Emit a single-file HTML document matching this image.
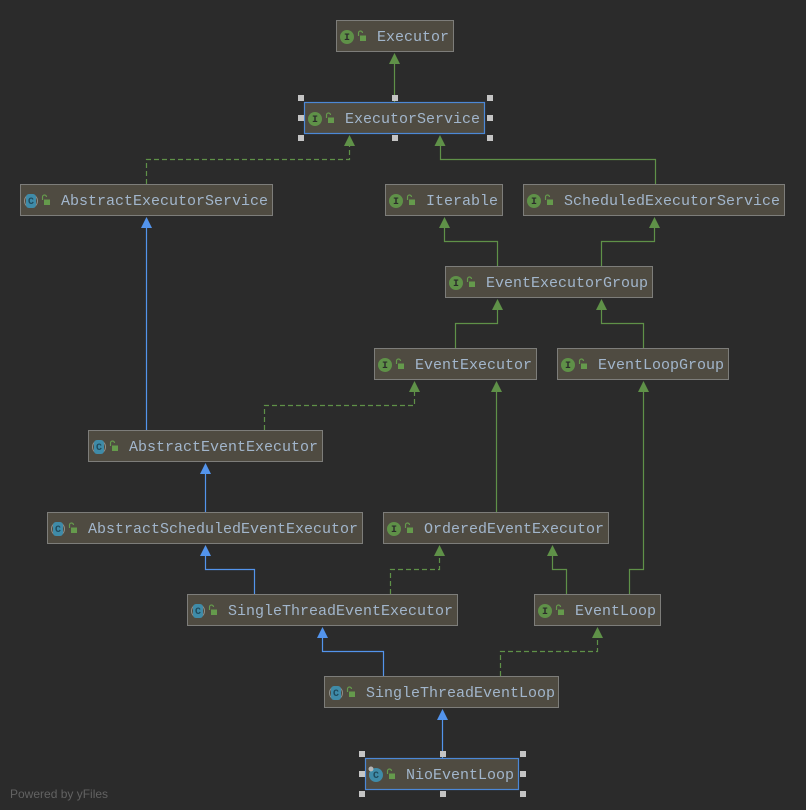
<!DOCTYPE html>
<html>
<head>
<meta charset="utf-8">
<style>
html,body{margin:0;padding:0;background:#2b2b2b;width:806px;height:810px;overflow:hidden}
svg{display:block}
.n{fill:#4f4b41;stroke:#7d7d7a;stroke-width:1}
.s{fill:#4f4b41;stroke:#4c88d6;stroke-width:1.2}
.t{font-family:"Liberation Mono",monospace;font-size:15px;fill:#a2b6cc}
.g{fill:none;stroke:#5f9148;stroke-width:1.2}
.b{fill:none;stroke:#5394ec;stroke-width:1.2}
.d{stroke-dasharray:5 3}
.ag{fill:#5f9148}
.ab{fill:#5394ec}
.h{fill:#c4c4c4}
.il{font-family:"Liberation Mono",monospace;font-size:10px;font-weight:bold;text-anchor:middle}
</style>
</head>
<body>
<svg width="806" height="810" viewBox="0 0 806 810" xmlns="http://www.w3.org/2000/svg">
<defs>
<g id="lock"><path d="M-4.500 -1V-4a2 2 0 0 1 4 0" fill="none" stroke="#659a4c" stroke-width="1.200"/><rect x="-3" y="-1.500" width="6" height="5.500" fill="#659a4c"/></g>
<g id="ii"><circle cx="0" cy="0" r="7" fill="#5f9148"/><use href="#lock" x="16" y="0"/></g>
<g id="cc"><circle cx="0" cy="0" r="6.500" fill="none" stroke="#8f8f8a" stroke-width="1"/><rect x="-5" y="-7" width="10" height="14" rx="3" fill="#3f8ba8"/><use href="#lock" x="16" y="0"/></g>
</defs>
<rect width="806" height="810" fill="#2b2b2b"/>

<!-- connectors -->
<path class="g" d="M394.500 102V62"/>
<path class="g d" d="M146.500 184V159.500H349.500V144"/>
<path class="g" d="M655.500 184V159.500H440.500V144"/>
<path class="b" d="M146.500 430V226"/>
<path class="g" d="M497.500 266V241.500H444.500V226"/>
<path class="g" d="M601.500 266V241.500H654.500V226"/>
<path class="g" d="M455.500 348V323.500H497.500V308"/>
<path class="g" d="M643.500 348V323.500H601.500V308"/>
<path class="g d" d="M264.500 430V405.500H414.500V390"/>
<path class="g" d="M496.500 512V390"/>
<path class="g" d="M629.500 594V569.500H643.500V390"/>
<path class="b" d="M205.500 512V472"/>
<path class="b" d="M254.500 594V569.500H205.500V554"/>
<path class="g d" d="M390.500 594V569.500H439.500V554"/>
<path class="g" d="M566.500 594V569.500H552.500V554"/>
<path class="b" d="M383.500 676V651.500H322.500V636"/>
<path class="g d" d="M500.500 676V651.500H597.500V636"/>
<path class="b" d="M442.500 758V718"/>

<!-- arrowheads -->
<path class="ag" d="M394.500 53l5.500 11h-11z"/>
<path class="ag" d="M349.500 135l5.500 11h-11z"/>
<path class="ag" d="M440 135l5.500 11h-11z"/>
<path class="ab" d="M146.500 217l5.500 11h-11z"/>
<path class="ag" d="M444.500 217l5.500 11h-11z"/>
<path class="ag" d="M654.500 217l5.500 11h-11z"/>
<path class="ag" d="M497.500 299l5.500 11h-11z"/>
<path class="ag" d="M601.500 299l5.500 11h-11z"/>
<path class="ag" d="M414.500 381l5.500 11h-11z"/>
<path class="ag" d="M496.500 381l5.500 11h-11z"/>
<path class="ag" d="M643.500 381l5.500 11h-11z"/>
<path class="ab" d="M205.500 463l5.500 11h-11z"/>
<path class="ab" d="M205.500 545l5.500 11h-11z"/>
<path class="ag" d="M439.500 545l5.500 11h-11z"/>
<path class="ag" d="M552.500 545l5.500 11h-11z"/>
<path class="ab" d="M322.500 627l5.500 11h-11z"/>
<path class="ag" d="M597.500 627l5.500 11h-11z"/>
<path class="ab" d="M442.500 709l5.500 11h-11z"/>

<!-- nodes -->
<rect class="n" x="336.500" y="20.500" width="117" height="31"/>
<use href="#ii" x="347" y="37"/><text class="il" x="347" y="40" fill="#2b2b2b">I</text>
<text class="t" x="377" y="41">Executor</text>

<rect class="s" x="304.500" y="102.500" width="180" height="31"/>
<use href="#ii" x="315" y="119"/><text class="il" x="315" y="122" fill="#2b2b2b">I</text>
<text class="t" x="345" y="123">ExecutorService</text>

<rect class="n" x="20.500" y="184.500" width="252" height="31"/>
<use href="#cc" x="31" y="201"/><text class="il" x="31" y="204" fill="#1f4a5c">C</text>
<text class="t" x="61" y="205">AbstractExecutorService</text>

<rect class="n" x="385.500" y="184.500" width="117" height="31"/>
<use href="#ii" x="396" y="201"/><text class="il" x="396" y="204" fill="#2b2b2b">I</text>
<text class="t" x="426" y="205">Iterable</text>

<rect class="n" x="523.500" y="184.500" width="261" height="31"/>
<use href="#ii" x="534" y="201"/><text class="il" x="534" y="204" fill="#2b2b2b">I</text>
<text class="t" x="564" y="205">ScheduledExecutorService</text>

<rect class="n" x="445.500" y="266.500" width="207" height="31"/>
<use href="#ii" x="456" y="283"/><text class="il" x="456" y="286" fill="#2b2b2b">I</text>
<text class="t" x="486" y="287">EventExecutorGroup</text>

<rect class="n" x="374.500" y="348.500" width="162" height="31"/>
<use href="#ii" x="385" y="365"/><text class="il" x="385" y="368" fill="#2b2b2b">I</text>
<text class="t" x="415" y="369">EventExecutor</text>

<rect class="n" x="557.500" y="348.500" width="171" height="31"/>
<use href="#ii" x="568" y="365"/><text class="il" x="568" y="368" fill="#2b2b2b">I</text>
<text class="t" x="598" y="369">EventLoopGroup</text>

<rect class="n" x="88.500" y="430.500" width="234" height="31"/>
<use href="#cc" x="99" y="447"/><text class="il" x="99" y="450" fill="#1f4a5c">C</text>
<text class="t" x="129" y="451">AbstractEventExecutor</text>

<rect class="n" x="47.500" y="512.500" width="315" height="31"/>
<use href="#cc" x="58" y="529"/><text class="il" x="58" y="532" fill="#1f4a5c">C</text>
<text class="t" x="88" y="533">AbstractScheduledEventExecutor</text>

<rect class="n" x="383.500" y="512.500" width="225" height="31"/>
<use href="#ii" x="394" y="529"/><text class="il" x="394" y="532" fill="#2b2b2b">I</text>
<text class="t" x="424" y="533">OrderedEventExecutor</text>

<rect class="n" x="187.500" y="594.500" width="270" height="31"/>
<use href="#cc" x="198" y="611"/><text class="il" x="198" y="614" fill="#1f4a5c">C</text>
<text class="t" x="228" y="615">SingleThreadEventExecutor</text>

<rect class="n" x="534.500" y="594.500" width="126" height="31"/>
<use href="#ii" x="545" y="611"/><text class="il" x="545" y="614" fill="#2b2b2b">I</text>
<text class="t" x="575" y="615">EventLoop</text>

<rect class="n" x="324.500" y="676.500" width="234" height="31"/>
<use href="#cc" x="336" y="693"/><text class="il" x="336" y="696" fill="#1f4a5c">C</text>
<text class="t" x="366" y="697">SingleThreadEventLoop</text>

<rect class="s" x="365.500" y="758.500" width="153" height="31"/>
<circle cx="376" cy="775" r="7" fill="#3f8ba8"/><circle cx="371" cy="769" r="2.500" fill="#b5b5b5"/><use href="#lock" x="392" y="775"/>
<text class="il" x="376" y="778" fill="#1f4a5c">C</text>
<text class="t" x="406" y="779">NioEventLoop</text>

<!-- selection handles -->
<g class="h">
<rect x="298" y="95" width="6" height="6"/><rect x="392" y="95" width="6" height="6"/><rect x="487" y="95" width="6" height="6"/>
<rect x="298" y="115" width="6" height="6"/><rect x="487" y="115" width="6" height="6"/>
<rect x="298" y="135" width="6" height="6"/><rect x="392" y="135" width="6" height="6"/><rect x="487" y="135" width="6" height="6"/>
<rect x="359" y="751" width="6" height="6"/><rect x="440" y="751" width="6" height="6"/><rect x="520" y="751" width="6" height="6"/>
<rect x="359" y="771" width="6" height="6"/><rect x="520" y="771" width="6" height="6"/>
<rect x="359" y="791" width="6" height="6"/><rect x="440" y="791" width="6" height="6"/><rect x="520" y="791" width="6" height="6"/>
</g>

<text x="10" y="798" font-family="'Liberation Sans',sans-serif" font-size="12" fill="#626262">Powered by yFiles</text>
</svg>
</body>
</html>
